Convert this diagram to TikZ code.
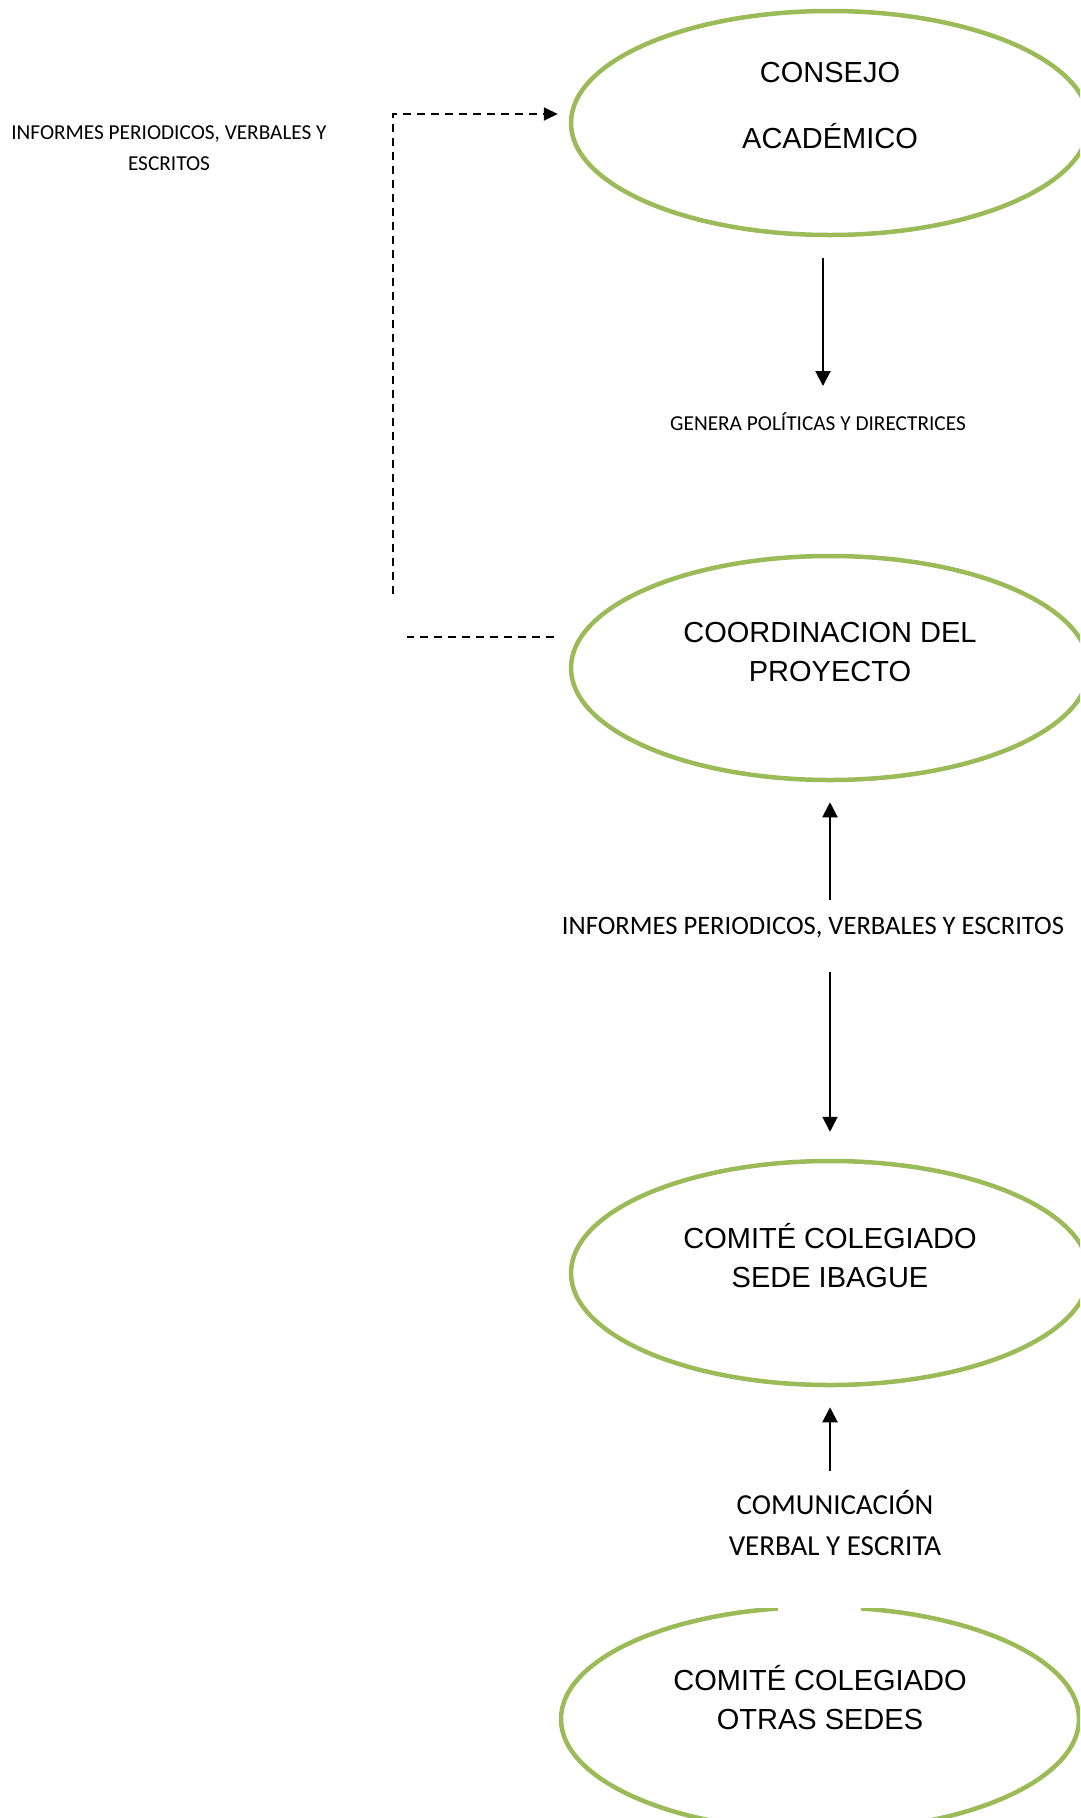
\documentclass[tikz,border=0pt]{standalone}
\usepackage{fontspec}
\setmainfont{Liberation Sans}
\newfontfamily\calib{Carlito}
\usetikzlibrary{shapes.geometric,arrows.meta}
\definecolor{og}{HTML}{9BBB59}
\begin{document}
\begin{tikzpicture}[x=1pt,y=-1pt,
 oval/.style={ellipse,draw=og,line width=4.5pt,minimum width=518pt,minimum height=224pt,inner sep=0pt},
 big/.style={font=\fontsize{29}{39}\selectfont,align=center,inner sep=0pt},
 lab/.style={font=\calib\fontsize{21.3}{31}\selectfont,align=center,inner sep=0pt},
 arr/.style={line width=2pt,-{Triangle[width=15pt,length=15pt]}},
 dsh/.style={line width=1.8pt,dash pattern=on 8pt off 6pt}]
\path[use as bounding box] (0,0) rectangle (1080,1818);
\clip (0,0) rectangle (1080,1818);
\fill[white] (0,0) rectangle (1080,1818);
% ellipses
\node[oval] (consejo) at (830,123) {};
\node[oval] (coord) at (830,668) {};
\node[oval] (comite) at (830,1273) {};
\node[oval] (otras) at (820,1719) {};
\fill[white] (732,1590) rectangle (910,1607.5);
\fill[white] (778,1590) rectangle (861,1616);
% texts
\node[big,font=\fontsize{29}{66}\selectfont] (tconsejo) at (830,106) {CONSEJO\\ACADÉMICO};
\node[big] (tcoord) at (830,652) {COORDINACION DEL\\PROYECTO};
\node[big] (tcomite) at (830,1256) {COMITÉ COLEGIADO\\SEDE IBAGUE};
\node[big] (totras) at (820,1698) {COMITÉ COLEGIADO\\OTRAS SEDES};
\node[lab] (inf1) at (169,148) {INFORMES PERIODICOS, VERBALES Y\\ESCRITOS};
\node[lab] (genera) at (818,422) {GENERA POLÍTICAS Y DIRECTRICES};
\node[lab,font=\calib\fontsize{26.6}{31}\selectfont] (inf2) at (813,928) {INFORMES PERIODICOS, VERBALES Y ESCRITOS};
\node[lab,font=\calib\fontsize{29}{41}\selectfont] (comun) at (835,1523) {COMUNICACIÓN\\VERBAL Y ESCRITA};
% solid arrows
\draw[arr] ([xshift=-7pt,yshift=-21pt]consejo.south) -- ([xshift=5pt,yshift=36pt]genera.center);
\draw[arr] ([xshift=17pt,yshift=28pt]inf2.center) -- ([yshift=-20pt]coord.south);
\draw[arr] ([xshift=17pt,yshift=-44pt]inf2.center) -- ([yshift=27pt]comite.north);
\draw[arr] ([xshift=-5pt,yshift=52pt]comun.center) -- ([yshift=-20pt]comite.south);
% dashed feedback
\coordinate (dv) at (393,594);
\coordinate (dh) at (407,637);
\draw[dsh,-{Triangle[width=13pt,length=14pt]}] (dv) |- ([xshift=-11pt,yshift=9pt]consejo.west);
\draw[dsh] ([xshift=-15pt,yshift=31pt]coord.west) -- (dh);
\end{tikzpicture}
\end{document}
